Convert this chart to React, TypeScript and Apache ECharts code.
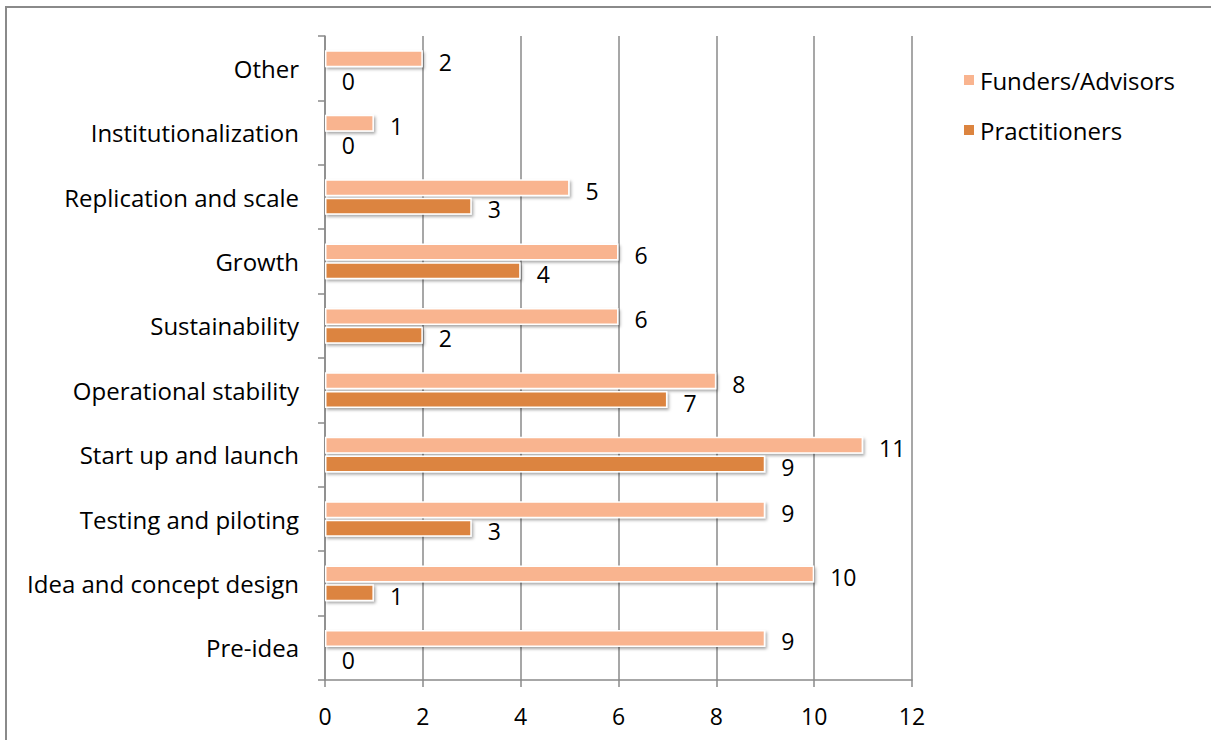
import React, { useEffect, useRef } from "react";
import * as echarts from "echarts";

const categories = [
  "Pre-idea",
  "Idea and concept design",
  "Testing and piloting",
  "Start up and launch",
  "Operational stability",
  "Sustainability",
  "Growth",
  "Replication and scale",
  "Institutionalization",
  "Other",
];
const funders = [9, 10, 9, 11, 8, 6, 6, 5, 1, 2];
const practitioners = [0, 1, 3, 9, 7, 2, 4, 3, 0, 0];
const seriesNames = ["Funders/Advisors", "Practitioners"];
const colors = ["#F9B48F", "#DC843F"];

const FONT = "'Open Sans', 'Noto Sans', sans-serif";

export default function App() {
  const ref = useRef<HTMLDivElement>(null);
  useEffect(() => {
    if (!ref.current) return;
    const chart = echarts.init(ref.current, undefined, { renderer: "svg" });
    const barStyle = (c: string) => ({
      color: c,
      borderColor: "#ffffff",
      borderWidth: 1.5,
      shadowBlur: 3,
      shadowColor: "rgba(0,0,0,0.35)",
      shadowOffsetX: 1.5,
      shadowOffsetY: 2,
    });
    const label = {
      show: true,
      position: "right" as const,
      distance: 16,
      offset: [0, 3],
      color: "#000",
      fontFamily: FONT,
      fontSize: 23,
    };
    chart.setOption({
      animation: false,
      backgroundColor: "#fff",
      graphic: [
        {
          type: "rect",
          shape: { x: 6, y: 7, width: 1400, height: 900 },
          style: { fill: "none", stroke: "#8a8a8a", lineWidth: 2 },
          silent: true,
        },
      ],
      legend: {
        orient: "vertical",
        left: 957,
        top: 63,
        itemWidth: 12,
        itemHeight: 12,
        itemGap: 26,
        icon: "rect",
        textStyle: { fontFamily: FONT, fontSize: 24, color: "#000" },
        data: seriesNames,
      },
      grid: { left: 325, right: 299, top: 36, bottom: 60, containLabel: false },
      xAxis: {
        type: "value",
        min: 0,
        max: 12,
        interval: 2,
        axisLine: { show: true, lineStyle: { color: "#8a8a8a", width: 1.5 } },
        axisTick: { show: true, length: 7, lineStyle: { color: "#8a8a8a", width: 1.5 } },
        splitLine: { show: true, lineStyle: { color: "#8a8a8a", width: 1.5 } },
        axisLabel: { margin: 24, color: "#000", fontFamily: FONT, fontSize: 23 },
      },
      yAxis: {
        type: "category",
        data: categories,
        axisLine: { show: true, lineStyle: { color: "#8a8a8a", width: 1.5 } },
        axisTick: { show: true, length: 7, lineStyle: { color: "#8a8a8a", width: 1.5 } },
        axisLabel: { margin: 26, color: "#000", fontFamily: FONT, fontSize: 24 },
      },
      series: [
        {
          name: seriesNames[0],
          type: "bar",
          data: funders,
          barWidth: 17,
          barGap: "10%",
          barCategoryGap: "47%",
          itemStyle: barStyle(colors[0]),
          label: { ...label },
        },
        {
          name: seriesNames[1],
          type: "bar",
          data: practitioners,
          barWidth: 17,
          barGap: "10%",
          itemStyle: barStyle(colors[1]),
          label: { ...label },
        },
      ],
    });
    return () => chart.dispose();
  }, []);
  return (
    <div
      ref={ref}
      style={{ position: "absolute", left: 0, top: 0, width: 1211, height: 740 }}
    />
  );
}
